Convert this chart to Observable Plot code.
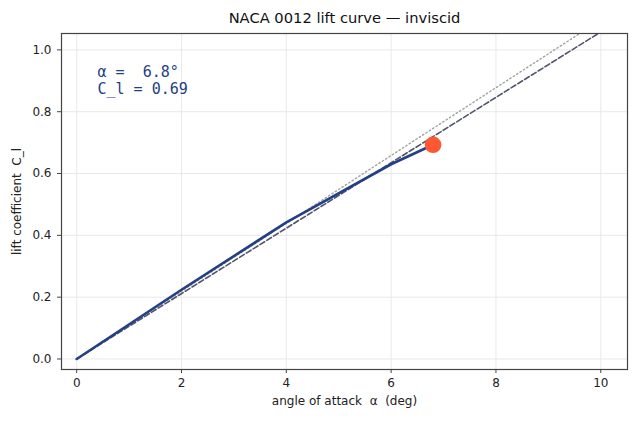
<!DOCTYPE html>
<html>
<head>
<meta charset="utf-8">
<script src="https://cdn.jsdelivr.net/npm/d3@7"></script>
<script src="https://cdn.jsdelivr.net/npm/@observablehq/plot@0.6"></script>
<style>
  html, body { margin: 0; padding: 0; background: #fff; }
  svg text { white-space: pre; }
</style>
</head>
<body>
<div id="chart"></div>
<script>
// Inviscid lift curve (solid), sampled up to the current angle
const alphaDeg = [0, 2, 4, 6, 6.8];
const clInviscid = [0, 0.224, 0.442, 0.630, 0.693];
// Reference lines
const refAlpha = [0, 10];
const clFit = [0, 1.058];     // dashed
const clThin = [0, 1.097];    // dotted (2π)
// Current operating point
const currentAlpha = [6.8];
const currentCl = [0.693];
const labelCl = 0.69;
// Ticks
const xTicks = [0, 2, 4, 6, 8, 10];
const yTicks = [0, 0.2, 0.4, 0.6, 0.8, 1.0];

const curve = alphaDeg.map((a, i) => ({a, cl: clInviscid[i]}));
const fit = refAlpha.map((a, i) => ({a, cl: clFit[i]}));
const thin = refAlpha.map((a, i) => ({a, cl: clThin[i]}));
const point = currentAlpha.map((a, i) => ({a, cl: currentCl[i]}));
const nb = s => s.replace(/ /g, "\u00a0");
const annot1 = nb(`α = ${currentAlpha[0].toFixed(1).padStart(4)}°`);
const annot2 = nb(`C_l = ${labelCl.toFixed(2)}`);

const font = "DejaVu Sans, sans-serif";
const mono = "DejaVu Sans Mono, monospace";

const chart = Plot.plot({
  width: 640,
  height: 422,
  marginLeft: 61,
  marginRight: 13,
  marginTop: 33,
  marginBottom: 53,
  style: {fontFamily: font, fontSize: "12px", color: "#222", background: "#fff"},
  x: {domain: [-0.29, 10.51]},
  y: {domain: [-0.034, 1.053]},
  marks: [
    Plot.gridX(xTicks, {stroke: "#e6e6e6", strokeOpacity: 1, strokeWidth: 0.9}),
    Plot.gridY(yTicks, {stroke: "#e6e6e6", strokeOpacity: 1, strokeWidth: 0.9}),
    Plot.line(thin, {x: "a", y: "cl", stroke: "#a0a0a0", strokeWidth: 1.4, strokeDasharray: "1.4,2.6", clip: true}),
    Plot.line(fit, {x: "a", y: "cl", stroke: "#50556a", strokeWidth: 1.6, strokeDasharray: "5.5,2.5", clip: true}),
    Plot.line(curve, {x: "a", y: "cl", stroke: "#233f85", strokeWidth: 2.6, strokeLinejoin: "round"}),
    Plot.dot(point, {x: "a", y: "cl", r: 8.3, fill: "#ff5733", stroke: "none"}),
    Plot.frame({stroke: "#444", strokeWidth: 1.2}),
    Plot.axisX({ticks: xTicks, tickSize: 4, tickPadding: 5, tickFormat: d3.format("d"), fontSize: 12, stroke: "#444",
      label: nb("angle of attack  α  (deg)"), labelAnchor: "center", labelArrow: "none", labelOffset: 35}),
    Plot.axisY({ticks: yTicks, tickSize: 4, tickPadding: 6, tickFormat: d3.format(".1f"), fontSize: 12, stroke: "#444",
      label: nb("lift coefficient  C_l"), labelAnchor: "center", labelArrow: "none", labelOffset: 49}),
    Plot.text([annot1], {
      text: d => d, frameAnchor: "top-left", textAnchor: "start", lineAnchor: "middle",
      dx: 36, dy: 39, fontFamily: mono, fontSize: 15, fill: "#233f85"
    }),
    Plot.text([annot2], {
      text: d => d, frameAnchor: "top-left", textAnchor: "start", lineAnchor: "middle",
      dx: 36, dy: 56, fontFamily: mono, fontSize: 15, fill: "#233f85"
    }),
    Plot.text(["NACA 0012 lift curve — inviscid"], {
      text: d => d, frameAnchor: "top", dy: -15, lineAnchor: "middle", fontSize: 14.7, fill: "#111"
    })
  ]
});

document.getElementById("chart").appendChild(chart);
</script>
</body>
</html>
